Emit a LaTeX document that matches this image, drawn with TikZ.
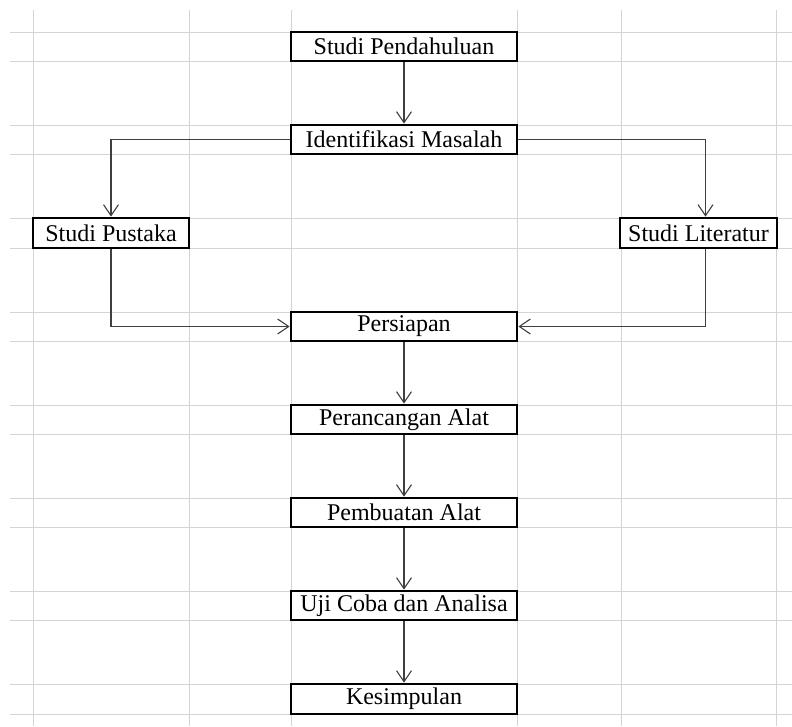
\documentclass[tikz,border=0pt]{standalone}
\usepackage{fontspec}
\setmainfont{Liberation Serif}
\usetikzlibrary{arrows.meta}
\definecolor{gridc}{HTML}{D4D4D4}
\definecolor{linec}{HTML}{404040}
\tikzset{
  box/.style={draw=black, line width=2.8pt, fill=white, inner sep=0pt,
    minimum width=226pt, minimum height=29pt, font=\fontsize{24}{28}\selectfont},
  conn/.style={draw=linec, line width=1.1pt,
    -{Straight Barb[length=11pt,width=15pt]}},
  gridline/.style={draw=gridc, line width=0.9pt}
}
\begin{document}
\begin{tikzpicture}[x=1pt,y=-1pt]
\useasboundingbox (0,0) rectangle (792,726);
\fill[white] (0,0) rectangle (792,726);
% spreadsheet grid
\foreach \gx in {33,189,291,517,621,776}
  \draw[gridline] (\gx,10) -- (\gx,726);
\foreach \gy in {32,61,125,154,218,248,312,341,405,434,498,527,591,620,684,714}
  \draw[gridline] (10,\gy) -- (792,\gy);
% boxes
\node[box] (pend) at (404,46.5) {Studi Pendahuluan};
\node[box] (ident) at (404,139.5) {Identifikasi Masalah};
\node[box, minimum width=156pt, minimum height=30pt] (pust) at (111,233) {Studi Pustaka};
\node[box, minimum width=157pt, minimum height=30pt] (lit) at (698.5,233) {Studi Literatur};
\node[box] (pers) at (404,326.5) {Persiapan};
\node[box] (peranc) at (404,419.5) {Perancangan Alat};
\node[box] (pemb) at (404,512.5) {Pembuatan Alat};
\node[box] (uji) at (404,605.5) {Uji Coba dan Analisa};
\node[box, minimum height=30pt] (kes) at (404,699) {Kesimpulan};
% connectors
\draw[conn] (pend) -- (ident);
\draw[conn] (ident.west) -| (pust.north);
\draw[conn] (ident.east) -| ([xshift=7pt]lit.north);
\draw[conn] (pust.south) |- (pers.west);
\draw[conn] ([xshift=7pt]lit.south) |- (pers.east);
\draw[conn] (pers) -- (peranc);
\draw[conn] (peranc) -- (pemb);
\draw[conn] (pemb) -- (uji);
\draw[conn] (uji) -- (kes);
\end{tikzpicture}
\end{document}
